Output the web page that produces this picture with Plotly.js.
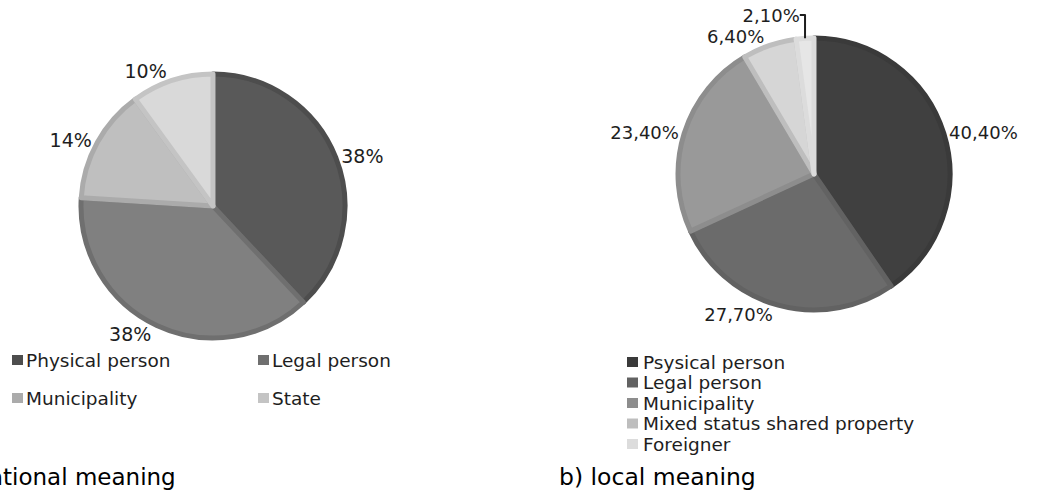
<!DOCTYPE html>
<html>
<head>
<meta charset="utf-8">
<script src="https://cdn.plot.ly/plotly-3.0.1.min.js"></script>
<style>
  html, body { margin: 0; padding: 0; background: #fff; }
  #chart { width: 1046px; height: 498px; }
</style>
</head>
<body>
<div id="chart"></div>
<script>
// a) national meaning
const natLabels = ["Physical person", "Legal person", "Municipality", "State"];
const natValues = [38, 38, 14, 10];
const natText   = ["38%", "38%", "14%", "10%"];

// b) local meaning
const locLabels = ["Psysical person", "Legal person", "Municipality", "Mixed status shared property", "Foreigner"];
const locValues = [40.4, 27.7, 23.4, 6.4, 2.1];
const locText   = ["40,40%", "27,70%", "23,40%", "6,40%", "2,10%"];

const W = 1046, H = 498;
const px = v => v / W;
const py = v => 1 - v / H;

const FONT = "DejaVu Sans, Verdana, sans-serif";
const INK = "#1e1e1e";

// fill + rim colours (the rim is also what the legend squares use)
const natFill = ["#595959", "#808080", "#bfbfbf", "#d9d9d9"];
const natRim  = ["#4d4d4d", "#6f6f6f", "#ababab", "#c4c4c4"];
const locFill = ["#404040", "#6b6b6b", "#999999", "#d6d6d6", "#e6e6e6"];
const locRim  = ["#3a3a3a", "#626262", "#8d8d8d", "#bebebe", "#dcdcdc"];

// domain box from centre + radius in page pixels
function box(cx, cy, r) {
    return { x: [px(cx - r), px(cx + r)], y: [py(cy + r), py(cy - r)] };
}

function pie(labels, values, text, fill, rim, dom, size) {
    return {
        type: "pie",
        labels: labels,
        values: values,
        text: text,
        textinfo: "text",
        textposition: "outside",
        sort: false,
        direction: "clockwise",
        rotation: 0,
        domain: dom,
        marker: { colors: fill, line: { color: rim, width: 5 } },
        outsidetextfont: { family: FONT, size: size, color: INK },
        hoverinfo: "label+text"
    };
}

const natPie = pie(natLabels, natValues, natText, natFill, natRim, box(213, 206, 132), 19);
const locPie = pie(locLabels, locValues, locText, locFill, locRim, box(814, 174, 136), 18);

/* -----------------------------
   Legends drawn as squares + labels, laid out like the figure
------------------------------*/
const shapes = [];
const annotations = [];

function legendBlock(labels, colors, x0, y0, colStep, rowStep, cols, size, gap) {
    labels.forEach((lab, i) => {
        const x = x0 + (i % cols) * colStep;
        const y = y0 + Math.floor(i / cols) * rowStep;
        shapes.push({
            type: "rect", xref: "paper", yref: "paper",
            x0: px(x), x1: px(x + 11), y0: py(y + 5), y1: py(y - 5),
            fillcolor: colors[i], line: { width: 0 }
        });
        annotations.push({
            text: lab, xref: "paper", yref: "paper",
            x: px(x + gap), y: py(y),
            xanchor: "left", yanchor: "middle",
            showarrow: false,
            font: { family: FONT, size: size, color: INK }
        });
    });
}

legendBlock(natLabels, natRim, 12, 360, 246, 38, 2, 18.5, 12);
legendBlock(locLabels, locRim, 627, 362, 0, 20.5, 1, 18.5, 14);

annotations.push(
    {
        text: "a) national meaning",
        xref: "paper", yref: "paper",
        x: px(178), y: py(477),
        xanchor: "right", yanchor: "middle",
        showarrow: false,
        font: { family: FONT, size: 23, color: "#000" }
    },
    {
        text: "b) local meaning",
        xref: "paper", yref: "paper",
        x: px(557), y: py(477),
        xanchor: "left", yanchor: "middle",
        showarrow: false,
        font: { family: FONT, size: 23.5, color: "#000" }
    }
);

const layout = {
    width: W,
    height: H,
    margin: { l: 0, r: 0, t: 0, b: 0 },
    paper_bgcolor: "#ffffff",
    font: { family: FONT, color: INK },
    showlegend: false,
    shapes: shapes,
    annotations: annotations
};

Plotly.newPlot("chart", [natPie, locPie], layout, { staticPlot: true });
</script>
</body>
</html>
